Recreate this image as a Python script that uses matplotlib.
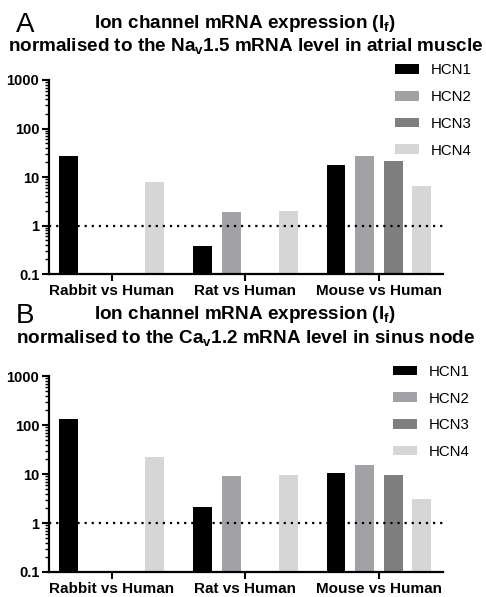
import numpy as np
import matplotlib
matplotlib.use("Agg")
import matplotlib.pyplot as plt
from matplotlib.ticker import LogLocator, FixedFormatter, FixedLocator

plt.rcParams["font.family"] = ["Liberation Sans", "DejaVu Sans"]
plt.rcParams["mathtext.fontset"] = "custom"
plt.rcParams["mathtext.bf"] = "Liberation Sans:bold"
plt.rcParams["mathtext.rm"] = "Liberation Sans"
plt.rcParams["mathtext.default"] = "bf"

# Data
groups = ["Rabbit vs Human", "Rat vs Human", "Mouse vs Human"]
channels = ["HCN1", "HCN2", "HCN3", "HCN4"]
colors = ["#000000", "#a2a2a6", "#7f7f7f", "#d6d6d6"]

# panel A: normalised to Nav1.5 in atrial muscle (None = not shown)
atrial_hcn1 = [27.4, 0.38, 17.9]
atrial_hcn2 = [None, 1.9, 26.5]
atrial_hcn3 = [None, None, 21.6]
atrial_hcn4 = [7.8, 2.0, 6.6]

# panel B: normalised to Cav1.2 in sinus node
sinus_hcn1 = [134, 2.15, 10.5]
sinus_hcn2 = [None, 9.0, 15.2]
sinus_hcn3 = [None, None, 9.8]
sinus_hcn4 = [22, 9.8, 3.05]

fig = plt.figure(figsize=(4.86, 5.97), dpi=100)


def draw_panel(ax, series):
    x = np.arange(len(groups))
    stride = 0.214
    width = 0.142
    ax.set_yscale("log")
    for i, (vals, c) in enumerate(zip(series, colors)):
        xs = [xi + (i - 1.5) * stride for xi, v in zip(x, vals) if v is not None]
        vs = [v for v in vals if v is not None]
        ax.bar(xs, vs, width=width, color=c, label=channels[i])
    ax.set_ylim(0.1, 1000)
    ax.set_xlim(-0.47, 2.48)
    ax.axhline(1, color="black", linestyle=(0, (1, 2.2)), linewidth=1.6, zorder=3)
    ax.yaxis.set_major_locator(FixedLocator([0.1, 1, 10, 100, 1000]))
    ax.yaxis.set_major_formatter(FixedFormatter(["0.1", "1", "10", "100", "1000"]))
    ax.yaxis.set_minor_locator(LogLocator(base=10, subs=np.arange(2, 10), numticks=20))
    ax.set_xticks(x)
    ax.set_xticklabels(groups, fontweight="bold", fontsize=11)
    for lab in ax.get_yticklabels():
        lab.set_fontweight("bold")
        lab.set_fontsize(10.5)
    for s in ["top", "right"]:
        ax.spines[s].set_visible(False)
    for s in ["left", "bottom"]:
        ax.spines[s].set_linewidth(1.6)
    ax.tick_params(axis="both", which="major", width=1.5, length=5, pad=2)
    ax.tick_params(axis="y", which="minor", width=1.0, length=3)


legend_kw = dict(frameon=False, fontsize=10.8, handlelength=1.6, handleheight=0.6,
                 handletextpad=0.8, labelspacing=0.85, borderpad=0, borderaxespad=0)

axA = fig.add_axes([0.1008, 0.541, 0.8107, 0.325])
draw_panel(axA, [atrial_hcn1, atrial_hcn2, atrial_hcn3, atrial_hcn4])
axA.legend(loc="upper left", bbox_to_anchor=(0.813, 0.894), bbox_transform=fig.transFigure,
           **legend_kw)

axB = fig.add_axes([0.1008, 0.0419, 0.8107, 0.328])
draw_panel(axB, [sinus_hcn1, sinus_hcn2, sinus_hcn3, sinus_hcn4])
axB.legend(loc="upper left", bbox_to_anchor=(0.809, 0.389), bbox_transform=fig.transFigure,
           **legend_kw)

# Titles
title_kw = dict(fontsize=13.6, fontweight="bold", ha="center", va="baseline")
fig.text(25 / 486, 1 - 32 / 597, "A", fontsize=20, ha="center", va="baseline")
fig.text(245 / 486, 1 - 27.5 / 597, r"Ion channel mRNA expression (I$_{f}$)", **title_kw)
fig.text(246 / 486, 1 - 51 / 597, r"normalised to the Na$_{v}$1.5 mRNA level in atrial muscle",
         **title_kw)

fig.text(25 / 486, 1 - 323 / 597, "B", fontsize=20, ha="center", va="baseline")
fig.text(245 / 486, 1 - 319 / 597, r"Ion channel mRNA expression (I$_{f}$)", **title_kw)
fig.text(246 / 486, 1 - 342.5 / 597, r"normalised to the Ca$_{v}$1.2 mRNA level in sinus node",
         **title_kw)

fig.savefig("out.png", dpi=100)
